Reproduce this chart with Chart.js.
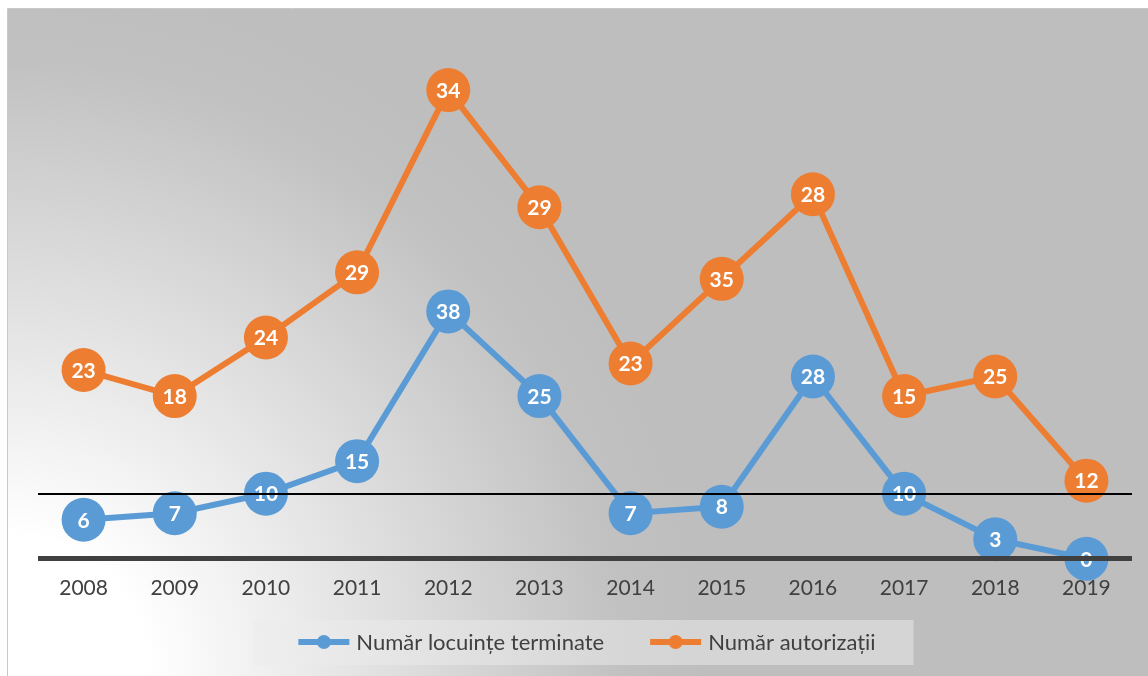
<!DOCTYPE html>
<html lang="ro">
<head>
    <meta charset="UTF-8">
    <title>Număr locuințe terminate / Număr autorizații</title>
    <script src="https://cdn.jsdelivr.net/npm/chart.js"></script>
    <style>
        body { margin: 0; background: #fff; }
        .wrap { position: relative; width: 1148px; height: 676px; }
    </style>
</head>
<body>
    <div class="wrap">
        <canvas id="chart"></canvas>
    </div>

    <script>
        const years = ["2008", "2009", "2010", "2011", "2012", "2013", "2014", "2015", "2016", "2017", "2018", "2019"];
        const locuinte = [6, 7, 10, 15, 38, 25, 7, 8, 28, 10, 3, 0];
        const autorizatii = [23, 18, 24, 29, 34, 29, 23, 35, 28, 15, 25, 12];

        const BLUE = "#5B9BD5";
        const ORANGE = "#ED7D31";
        const TEXT = "#404040";
        const FONT = "Lato, 'Open Sans', sans-serif";

        const backgroundPlugin = {
            id: "panelBackground",
            beforeDraw(chart) {
                const ctx = chart.ctx;
                const w = chart.width, h = chart.height;
                ctx.save();
                ctx.fillStyle = "#fff";
                ctx.fillRect(0, 0, w, h);
                const grad = ctx.createRadialGradient(8, 676, 0, 8, 676, 700);
                grad.addColorStop(0, "#ffffff");
                grad.addColorStop(0.2, "#ffffff");
                grad.addColorStop(0.88, "#c1c1c1");
                grad.addColorStop(1, "#bebebe");
                ctx.fillStyle = grad;
                ctx.fillRect(7, 9, w - 7, h - 9);
                ctx.strokeStyle = "#c8c8c8";
                ctx.lineWidth = 1;
                ctx.beginPath();
                ctx.moveTo(7.5, h);
                ctx.lineTo(7.5, 8.5);
                ctx.lineTo(w, 8.5);
                ctx.stroke();
                ctx.restore();
            }
        };

        // legend drawn by hand: line+dot marker, text, translucent box behind
        const legendBox = {
            id: "legendBox",
            afterDraw(chart) {
                const ctx = chart.ctx;
                const cy = 642;
                const markerW = 51, textGap = 7, itemGap = 46;
                ctx.save();
                ctx.font = "22px " + FONT;
                const items = chart.data.datasets.map(ds => ({
                    text: ds.label,
                    color: ds.borderColor,
                    w: ctx.measureText(ds.label).width
                }));
                let total = 0;
                items.forEach((it, i) => {
                    total += markerW + textGap + it.w + (i < items.length - 1 ? itemGap : 0);
                });
                let x = 587 - total / 2;
                const start = x;

                ctx.fillStyle = "rgba(235, 235, 235, 0.5)";
                ctx.fillRect(start - 45, 620, total + 83, 45);

                ctx.textBaseline = "middle";
                ctx.textAlign = "left";
                items.forEach(it => {
                    ctx.fillStyle = it.color;
                    ctx.fillRect(x, cy - 3, markerW, 6);
                    ctx.beginPath();
                    ctx.arc(x + markerW / 2, cy, 7, 0, Math.PI * 2);
                    ctx.fill();
                    x += markerW + textGap;
                    ctx.fillStyle = TEXT;
                    ctx.fillText(it.text, x, cy + 1);
                    x += it.w + itemGap;
                });
                ctx.restore();
            }
        };

        const valueLabels = {
            id: "valueLabels",
            afterDatasetsDraw(chart) {
                const ctx = chart.ctx;
                ctx.save();
                ctx.fillStyle = "#fff";
                ctx.font = "bold 21px " + FONT;
                ctx.textAlign = "center";
                ctx.textBaseline = "middle";
                chart.data.datasets.forEach((ds, i) => {
                    const meta = chart.getDatasetMeta(i);
                    meta.data.forEach((pt, j) => {
                        ctx.fillText(String(ds.data[j]), pt.x, pt.y + 1);
                    });
                });
                ctx.restore();
            }
        };

        new Chart(document.getElementById("chart"), {
            type: "line",
            data: {
                labels: years,
                datasets: [
                    {
                        label: "Număr locuințe terminate",
                        data: locuinte,
                        borderColor: BLUE,
                        backgroundColor: BLUE,
                        borderWidth: 6,
                        pointRadius: 22,
                        pointBorderWidth: 0,
                        pointStyle: "circle",
                        fill: false,
                        clip: false,
                        tension: 0
                    },
                    {
                        label: "Număr autorizații",
                        data: autorizatii,
                        borderColor: ORANGE,
                        backgroundColor: ORANGE,
                        borderWidth: 6,
                        pointRadius: 22,
                        pointBorderWidth: 0,
                        pointStyle: "circle",
                        fill: false,
                        clip: false,
                        tension: 0
                    }
                ]
            },
            options: {
                responsive: true,
                maintainAspectRatio: false,
                animation: false,
                events: [],
                layout: {
                    autoPadding: false,
                    padding: { left: 38, right: 16, top: 38, bottom: 58 }
                },
                scales: {
                    x: {
                        offset: true,
                        grid: { display: false, drawTicks: false },
                        border: { display: false },
                        ticks: {
                            color: TEXT,
                            font: { family: FONT, size: 21 },
                            padding: 17
                        }
                    },
                    y: {
                        stacked: true,
                        min: 0,
                        max: 80,
                        z: 1,
                        border: { display: false },
                        ticks: { display: false, stepSize: 10 },
                        grid: {
                            z: 1,
                            drawTicks: false,
                            color: c => c.tick.value === 0 ? "#404040" : (c.tick.value === 10 ? "#000000" : "rgba(0,0,0,0)"),
                            lineWidth: c => c.tick.value === 0 ? 5 : 2
                        }
                    }
                },
                plugins: {
                    legend: { display: false },
                    tooltip: { enabled: false }
                }
            },
            plugins: [backgroundPlugin, valueLabels, legendBox]
        });
    </script>
</body>
</html>
